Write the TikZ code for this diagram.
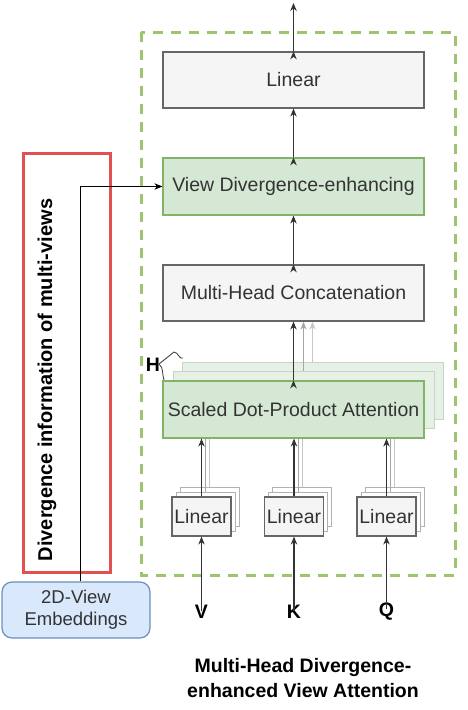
\documentclass[tikz,border=0pt]{standalone}
\usepackage{fontspec}
\setmainfont{Liberation Sans}
\usetikzlibrary{arrows.meta,positioning}

\definecolor{boxgray}{HTML}{F5F5F5}
\definecolor{linegray}{HTML}{666666}
\definecolor{txtgray}{HTML}{333333}
\definecolor{vgreen}{HTML}{82B366}
\definecolor{lgreen}{HTML}{D5E8D4}
\definecolor{dashgreen}{HTML}{9DC46F}
\definecolor{vred}{HTML}{E05252}
\definecolor{vblue}{HTML}{6C8EBF}
\definecolor{lblue}{HTML}{DAE8FC}

\tikzset{
	every node/.style={inner sep=0pt},
	boxtxt/.style={font=\fontsize{19.5}{21}\selectfont, text=txtgray},
	graybox/.style={boxtxt, draw=linegray, fill=boxgray, line width=1.2pt},
	greenbox/.style={boxtxt, draw=vgreen, fill=lgreen, line width=1.2pt},
	ghostbox/.style={draw=vgreen!40!black!25, fill=lgreen!60, line width=1pt, minimum width=261, minimum height=57},
	smallbox/.style={graybox, minimum width=59, minimum height=39},
	smallghost/.style={draw=linegray!50, fill=white, line width=1pt, minimum width=59, minimum height=39},
	arr/.style={-{Stealth[length=8pt,width=6.5pt]}, line width=1.1pt, draw=txtgray},
	arrlight/.style={-{Stealth[length=8pt,width=6pt]}, line width=0.9pt, draw=black!35},
	arrfaint/.style={-{Stealth[length=8pt,width=6pt]}, line width=0.9pt, draw=black!22},
	boldtxt/.style={font=\fontsize{19.5}{25}\selectfont\bfseries},
}

\begin{document}
\begin{tikzpicture}[x=1pt, y=-1pt]
	\useasboundingbox (0,0) rectangle (467,710);

	% outer frame
	\draw[dashgreen, line width=3pt, dash pattern=on 10pt off 8pt] (141,32) rectangle (455,575);

	% upper stack
	\node[graybox, minimum width=261, minimum height=56]	(lin) at (293.5, 80)   {Linear};
	\node[greenbox, minimum width=261, minimum height=57]	(vd)  at (293.5, 186.5) {View Divergence-enhancing};
	\node[graybox, minimum width=261, minimum height=56]	(mhc) at (293.5, 293)  {Multi-Head Concatenation};

	% attention heads
	\node[ghostbox]	(sdpa3) at (312.5, 390.5) {};
	\node[ghostbox]	(sdpa2) at (303.5, 400)   {};
	\node[greenbox, minimum width=261, minimum height=57]	(sdpa) at (293.5, 409.5) {Scaled Dot-Product Attention};

	% linear projections
	\foreach \nm/\x in {v/201.5, k/294, q/386.5} {
		\node[smallghost]	(lin\nm3) at (\x+8, 506.5) {};
		\node[smallghost]	(lin\nm2) at (\x+4, 511.5) {};
		\node[smallbox]		(lin\nm)  at (\x, 516.5)   {Linear};
	}

	% inputs
	\node[boldtxt]	(v) at (201.5, 612) {V};
	\node[boldtxt]	(k) at (294, 612)   {K};
	\node[boldtxt]	(q) at (386.5, 612) {Q};

	% left side
	\node[draw=vred, line width=3pt, minimum width=87, minimum height=419]	(divbox) at (66.5, 362.5) {};
	\node[boldtxt, rotate=90, font=\fontsize{20}{24}\selectfont\bfseries]	(divtxt) at (47, 380) {Divergence information of multi-views};
	\node[boxtxt, draw=vblue, fill=lblue, line width=1.2pt, rounded corners=10pt, minimum width=148, minimum height=56, align=center, font=\fontsize{18.5}{22}\selectfont]
		(emb) at (76, 610) {2D-View\\Embeddings};

	% H label
	\node[boldtxt]	(h) at (153, 365) {H};
	\coordinate (hc1) at (159, 364);
	\coordinate (hc2) at (174, 352);
	\coordinate (hc3) at (183, 358);
	\coordinate (hc4) at (164, 380);
	\draw[txtgray, line width=0.8pt] (hc3) to[out=-150, in=0] (hc2) -- (hc1) to[out=-40, in=110] (hc4);

	% caption
	\node[boldtxt, align=center]	(cap) at (303, 678) {Multi-Head Divergence-\\enhanced View Attention};

	\coordinate (out) at (293.5, 3);

	\path [arr] (lin.north) edge (out);
	\path [arr] (vd.north) edge (lin.south);
	\path [arr] (mhc.north) edge (vd.south);
	\path [arr] (sdpa.north) edge (mhc.south);
	\draw [arrlight] (sdpa2.north) -- (sdpa2.north |- mhc.south);
	\draw [arrfaint] (sdpa3.north) -- (sdpa3.north |- mhc.south);

	\foreach \nm in {v, k, q} {
		\draw [arrfaint, -] (lin\nm3.north) -- (lin\nm3.north |- sdpa.south);
		\draw [arrlight, -] (lin\nm2.north) -- (lin\nm2.north |- sdpa.south);
		\draw [arr] (lin\nm.north) -- (lin\nm.north |- sdpa.south);
		\draw [arr] ([yshift=-6pt]\nm.north) -- (lin\nm.south);
	}

	\draw [arr, line width=0.8pt, draw=black] ([xshift=4pt]emb.north) |- (vd.west);
\end{tikzpicture}
\end{document}
